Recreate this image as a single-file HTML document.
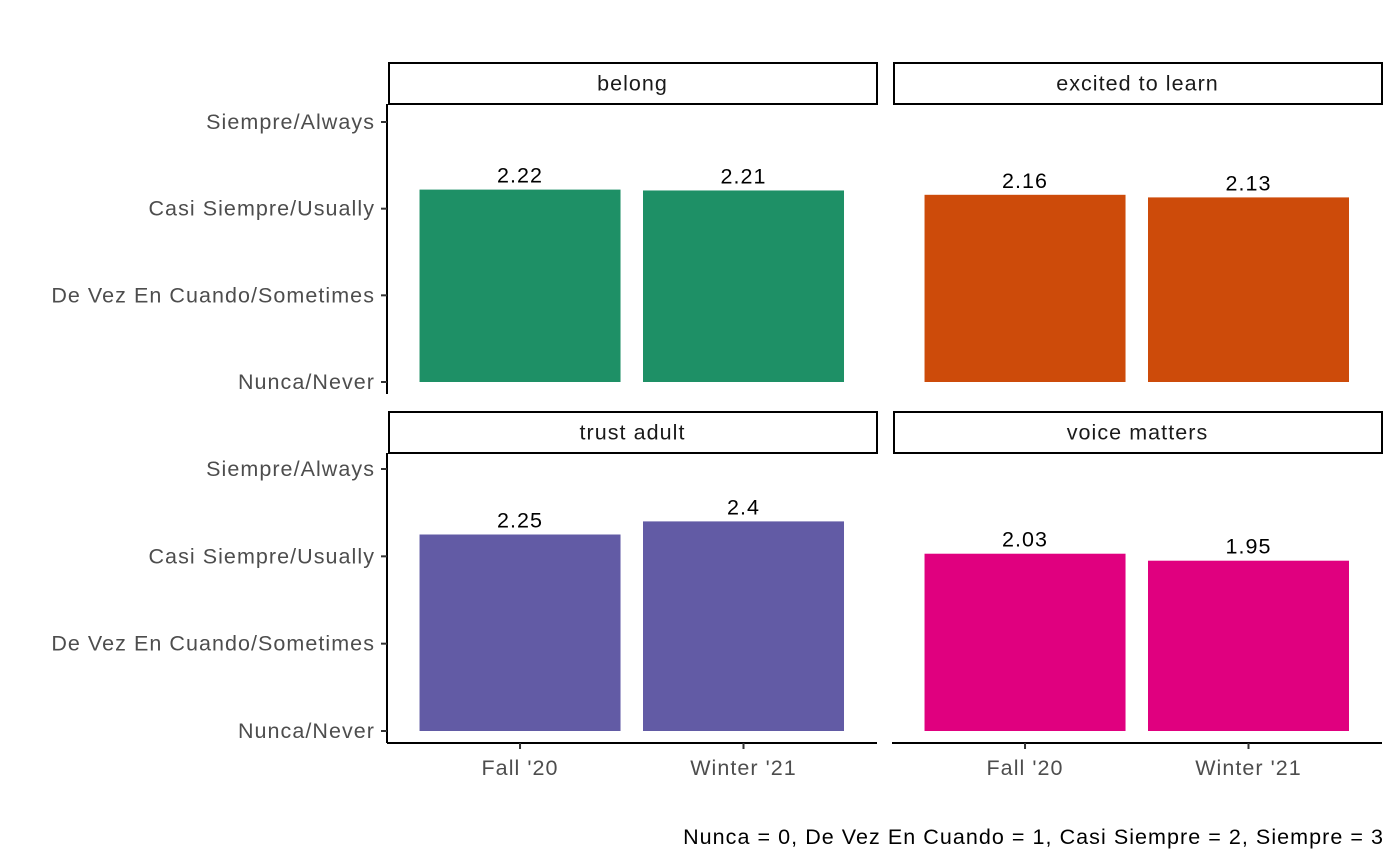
<!DOCTYPE html>
<html><head><meta charset="utf-8"><style>
body{margin:0;background:#fff;}
svg{display:block;font-family:"Liberation Sans",Arial,sans-serif;}
svg text{letter-spacing:1.05px;}
</style></head><body>
<svg id="chart" width="1398" height="864"></svg>
<script>
const facets = ["belong","excited to learn","trust adult","voice matters"];
const periods = ["Fall '20","Winter '21"];
const belongVals = [2.22, 2.21];
const excitedVals = [2.16, 2.13];
const trustVals = [2.25, 2.4];
const voiceVals = [2.03, 1.95];
const yTickLabels = ["Nunca/Never","De Vez En Cuando/Sometimes","Casi Siempre/Usually","Siempre/Always"];
const yTickValues = [0,1,2,3];

const seriesVals=[belongVals,excitedVals,trustVals,voiceVals];
const colors=["#1E9066","#CD4B0A","#625BA5","#E0007F"];
const FS=21.5;
const NS="http://www.w3.org/2000/svg";
const svg=document.getElementById('chart');
function mk(tag,attrs,parent){const e=document.createElementNS(NS,tag);for(const k in attrs)e.setAttribute(k,attrs[k]);(parent||svg).appendChild(e);return e;}
const panelsX=[[388,877],[893,1382]];
const panelsY=[{strip:[63,104],y0:382,y3:122,axisTop:104,axisBot:394},{strip:[412,453],y0:731,y3:469,axisTop:453,axisBot:743}];
function xCenter(px,i){const w=px[1]-px[0];return px[0]+w*(0.27+0.457*i);}
facets.forEach((f,fi)=>{
  const px=panelsX[fi%2], py=panelsY[Math.floor(fi/2)];
  const yS=v=>py.y0-(py.y0-py.y3)*v/3;
  const g=mk('g',{});
  
  
  const s=mk('rect',{x:px[0]+1,y:py.strip[0],width:px[1]-px[0]-1,height:py.strip[1]-py.strip[0],fill:'#fff',stroke:'#000','stroke-width':2},g);
  
  
  const st=mk('text',{x:(px[0]+px[1])/2,y:(py.strip[0]+py.strip[1])/2+7,'text-anchor':'middle','font-size':FS,fill:'#1a1a1a'},g);
  st.textContent=f;
  
  
  seriesVals[fi].forEach((v,i)=>{
    const cx=xCenter(px,i), bw=201;
    const b=mk('rect',{x:cx-bw/2,y:yS(v),width:bw,height:yS(0)-yS(v),fill:colors[fi]},g);
    
    
    const t=mk('text',{x:cx,y:yS(v)-7,'text-anchor':'middle','font-size':FS,fill:'#000'},g);
    t.textContent=String(v);
    
    
  });
  if(fi%2===0){
    mk('line',{x1:387,x2:387,y1:py.axisTop,y2:py.axisBot,stroke:'#000','stroke-width':2},g);
    yTickValues.forEach((tv,ti)=>{
      const y=yS(tv);
      mk('line',{x1:381,x2:387,y1:y,y2:y,stroke:'#333','stroke-width':2},g);
      const t=mk('text',{x:375,y:y+7,'text-anchor':'end','font-size':FS,fill:'#4d4d4d'},g);
      t.textContent=yTickLabels[ti];
      
      
    });
  }
  if(fi>=2){
    mk('line',{x1:px[0]-1,x2:px[1],y1:743,y2:743,stroke:'#000','stroke-width':2},g);
    periods.forEach((p,i)=>{
      const cx=xCenter(px,i);
      mk('line',{x1:cx,x2:cx,y1:743,y2:749,stroke:'#333','stroke-width':2},g);
      const t=mk('text',{x:cx,y:775,'text-anchor':'middle','font-size':FS,fill:'#4d4d4d'},g);
      t.textContent=p;
      
      
    });
  }
});
const cap=mk('text',{x:1384,y:844,'text-anchor':'end','font-size':FS,fill:'#000'});
cap.textContent="Nunca = 0, De Vez En Cuando = 1, Casi Siempre = 2, Siempre = 3";


</script>
</body></html>
